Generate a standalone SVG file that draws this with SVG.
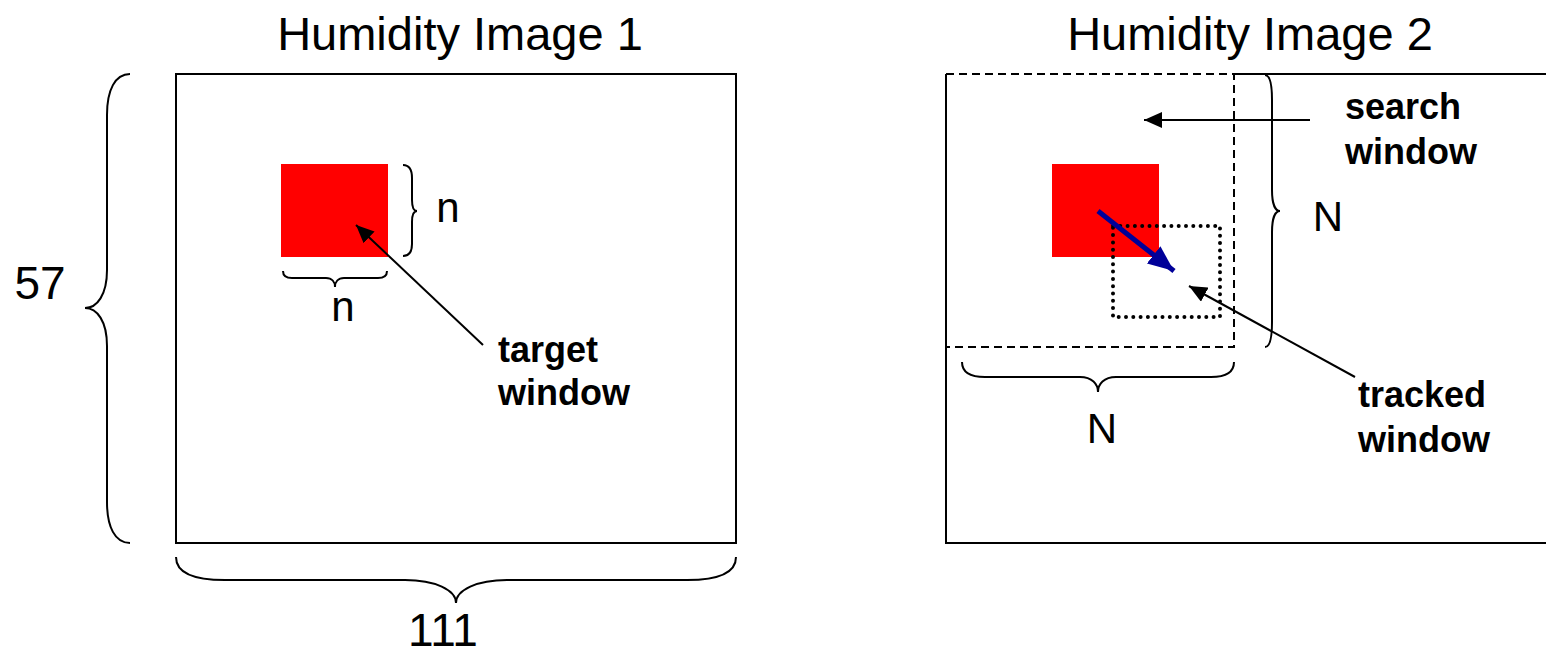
<svg xmlns="http://www.w3.org/2000/svg" width="1546" height="653" viewBox="0 0 1546 653">
<style>
.t{font-family:"Liberation Sans",Arial,sans-serif;fill:#000}
.title{font-size:47px;text-anchor:middle}
.dim{font-size:46px;text-anchor:middle}
.lbl{font-size:42px;text-anchor:middle}
.b{font-size:36px;font-weight:bold}
.frame{fill:none;stroke:#000;stroke-width:2}
.brace{fill:none;stroke:#000;stroke-width:2}
.dash{fill:none;stroke:#000;stroke-width:2;stroke-dasharray:8 5}
.dot{fill:none;stroke:#000;stroke-width:4;stroke-dasharray:0 7.3;stroke-linecap:round}
.arr{fill:none;stroke:#000;stroke-width:2}
</style>
<defs>
<marker id="ah" markerUnits="userSpaceOnUse" markerWidth="20" markerHeight="16" refX="18" refY="8" orient="auto">
<path d="M0,0 L18,8 L0,16 Z" fill="#000"/>
</marker>
<marker id="ahb" markerUnits="userSpaceOnUse" markerWidth="28" markerHeight="22" refX="26" refY="11" orient="auto">
<path d="M0,0 L26,11 L0,22 Z" fill="#000099"/>
</marker>
</defs>
<rect width="1546" height="653" fill="#fff"/>

<g id="image1">
<text class="t title" x="460" y="50">Humidity Image 1</text>
<rect class="frame" x="176" y="74" width="560" height="469"/>
</g>
<g id="dim57">
<path class="brace" d="M130,74 C115,74 107,90 107,115 L107,270 C107,295 97,308 85,308 C97,308 107,321 107,346 L107,502 C107,527 115,543 130,543"/>
<text class="t dim" x="40" y="299">57</text>
</g>
<g id="dim111">
<path class="brace" d="M176,557 C176,573 195,580 225,580 L405,580 C435,580 456,590 456,603 C456,590 477,580 507,580 L687,580 C717,580 736,573 736,557"/>
<text class="t dim" x="443" y="646">111</text>
</g>
<g id="target">
<rect x="281" y="164" width="107" height="93" fill="#ff0000"/>
<path class="brace" d="M403,165 C409,165 412,170 412,178 L412,200 C412,207 414,211 417,211 C414,211 412,215 412,222 L412,244 C412,252 409,256 403,256"/>
<text class="t lbl" x="448" y="222">n</text>
<path class="brace" d="M283,271 C283,276 286,278 292,278 L326,278 C332,278 335,282 335,287 C335,282 338,278 344,278 L378,278 C384,278 387,276 387,271"/>
<text class="t lbl" x="343" y="321">n</text>
<text class="t b" x="498" y="362">target</text>
<text class="t b" x="498" y="405">window</text>
</g>

<g id="image2">
<text class="t title" x="1250" y="50">Humidity Image 2</text>
<path class="frame" d="M1234,74 H1550 M946,74 V543 H1550"/>
</g>
<g id="search">
<path class="dash" d="M946,74 H1234 V347 H946"/>
<path class="brace" d="M1265,75 C1270,75 1272,85 1272,100 L1272,190 C1272,203 1275,211 1280,211 C1275,211 1272,219 1272,232 L1272,322 C1272,337 1270,347 1265,347"/>
<text class="t lbl" x="1328" y="231">N</text>
<path class="brace" d="M962,362 C962,372 970,377 985,377 L1080,377 C1092,377 1098,384 1098,392 C1098,384 1104,377 1116,377 L1211,377 C1226,377 1234,372 1234,362"/>
<text class="t lbl" x="1102" y="443">N</text>
<text class="t b" x="1345" y="119">search</text>
<text class="t b" x="1345" y="164">window</text>
</g>
<g id="tracked">
<rect x="1052" y="164" width="107" height="93" fill="#ff0000"/>
<rect class="dot" x="1113" y="226" width="107" height="91"/>
<text class="t b" x="1358" y="407">tracked</text>
<text class="t b" x="1358" y="452">window</text>
</g>

<g id="connectors">
<line class="arr" x1="483" y1="345" x2="356" y2="225" marker-end="url(#ah)"/>
<line class="arr" x1="1310" y1="120" x2="1144" y2="120" marker-end="url(#ah)"/>
<line class="arr" x1="1355" y1="377" x2="1189" y2="286" marker-end="url(#ah)"/>
<line x1="1098" y1="211" x2="1174" y2="271" stroke="#000099" stroke-width="5" marker-end="url(#ahb)"/>
</g>
</svg>
